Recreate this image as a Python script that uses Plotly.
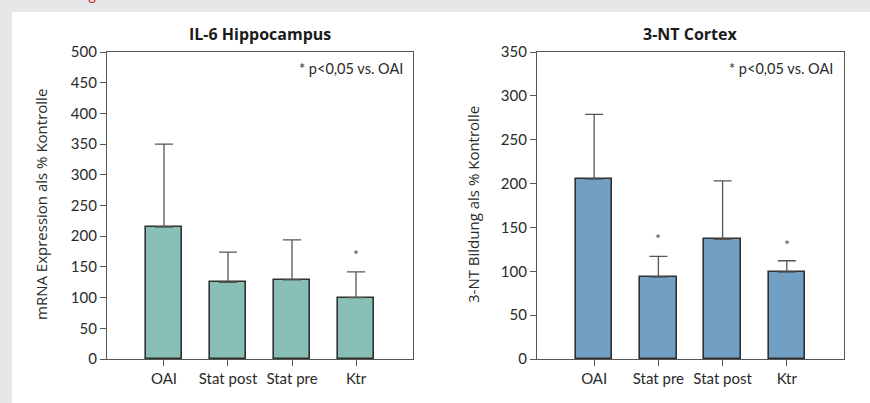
import plotly.graph_objects as go

W, H = 870, 403

# Left chart: IL-6 Hippocampus
cats_left = ["OAI", "Stat post", "Stat pre", "Ktr"]
vals_left = [215, 125, 129, 100]
err_left = [135, 49, 65, 42]
stars_left = ["", "", "", "*"]
star_y_left = [None, None, None, 171]

# Right chart: 3-NT Cortex
cats_right = ["OAI", "Stat pre", "Stat post", "Ktr"]
vals_right = [205, 93.5, 136.5, 99]
err_right = [74, 23.5, 66.5, 13]
stars_right = ["", "*", "", "*"]
star_y_right = [None, 137, None, 130]

title_left = "IL-6 Hippocampus"
title_right = "3-NT Cortex"
ytitle_left = "mRNA Expression als % Kontrolle"
ytitle_right = "3-NT Bildung als % Kontrolle"
note_text = "* p<0,05 vs. OAI"
yticks_left = [0, 50, 100, 150, 200, 250, 300, 350, 400, 450, 500]
yticks_right = [0, 50, 100, 150, 200, 250, 300, 350]

FONT = "Lato"
TXT = "#2a2a2a"
AX = "#555555"

fig = go.Figure()

def add_bars(cats, vals, errs, color, xa, ya):
    fig.add_trace(go.Bar(
        x=list(range(len(cats))), y=vals,
        width=0.57,
        marker=dict(color=color, line=dict(color="#303030", width=1.6)),
        error_y=dict(type="data", array=errs, arrayminus=[0]*len(errs),
                     symmetric=False, color="#555555", thickness=1.3, width=9),
        xaxis=xa, yaxis=ya, showlegend=False, hoverinfo="skip",
    ))

add_bars(cats_left, vals_left, err_left, "#88c0b8", "x", "y")
add_bars(cats_right, vals_right, err_right, "#72a0c4", "x2", "y2")

xd1 = [107 / W, 413 / W]
xd2 = [537 / W, 844 / W]
yd = [(H - 359) / H, (H - 52) / H]

common_x = dict(showline=True, linecolor=AX, linewidth=1.3, mirror=True,
                ticks="outside", ticklen=6, tickcolor=AX, tickwidth=1.3,
                showgrid=False, zeroline=False, range=[-0.89, 3.89],
                automargin=False,
                tickfont=dict(family=FONT, size=15, color=TXT))
common_y = dict(showline=True, linecolor=AX, linewidth=1.3, mirror=True,
                ticks="outside", ticklen=6, tickcolor=AX, tickwidth=1.3,
                showgrid=False, zeroline=False, automargin=False,
                tickfont=dict(family=FONT, size=15, color=TXT))

fig.update_layout(
    width=W, height=H,
    margin=dict(l=0, r=0, t=0, b=0, pad=0, autoexpand=False),
    paper_bgcolor="#e6e7e8",
    plot_bgcolor="white",
    bargap=0,
    xaxis=dict(domain=xd1, anchor="y", tickvals=list(range(4)), ticktext=cats_left, **common_x),
    yaxis=dict(domain=yd, anchor="x", range=[0, 500], tickvals=yticks_left, **common_y),
    xaxis2=dict(domain=xd2, anchor="y2", tickvals=list(range(4)), ticktext=cats_right, **common_x),
    yaxis2=dict(domain=yd, anchor="x2", range=[0, 350], tickvals=yticks_right, **common_y),
    shapes=[dict(type="rect", xref="paper", yref="paper", layer="below",
                 x0=12 / W, x1=1, y0=0, y1=(H - 12) / H,
                 fillcolor="white", line=dict(width=0))],
)

ann = []
# titles
ann.append(dict(text="<b>" + title_left + "</b>", xref="paper", yref="paper",
                x=260 / W, y=(H - 34) / H, xanchor="center", yanchor="middle",
                showarrow=False, font=dict(family="Open Sans", size=16, color="#1a1a1a")))
ann.append(dict(text="<b>" + title_right + "</b>", xref="paper", yref="paper",
                x=690 / W, y=(H - 34) / H, xanchor="center", yanchor="middle",
                showarrow=False, font=dict(family="Open Sans", size=16, color="#1a1a1a")))
# y-axis titles
ann.append(dict(text=ytitle_left, xref="paper", yref="paper", textangle=-90,
                x=41 / W, y=(H - 205) / H, xanchor="center", yanchor="middle",
                showarrow=False, font=dict(family="Open Sans", size=15, color=TXT)))
ann.append(dict(text=ytitle_right, xref="paper", yref="paper", textangle=-90,
                x=473 / W, y=(H - 205) / H, xanchor="center", yanchor="middle",
                showarrow=False, font=dict(family="Open Sans", size=15, color=TXT)))
# notes
ann.append(dict(text=note_text, xref="paper", yref="paper",
                x=405 / W, y=(H - 68) / H, xanchor="right", yanchor="middle",
                showarrow=False, font=dict(family=FONT, size=14.5, color=TXT)))
ann.append(dict(text=note_text, xref="paper", yref="paper",
                x=835 / W, y=(H - 68) / H, xanchor="right", yanchor="middle",
                showarrow=False, font=dict(family=FONT, size=14.5, color=TXT)))
# stars
for i, (s, sy) in enumerate(zip(stars_left, star_y_left)):
    if s:
        ann.append(dict(text=s, xref="x", yref="y", x=i, y=sy, showarrow=False,
                        xanchor="center", yanchor="middle",
                        font=dict(family=FONT, size=14, color="#555555")))
for i, (s, sy) in enumerate(zip(stars_right, star_y_right)):
    if s:
        ann.append(dict(text=s, xref="x2", yref="y2", x=i, y=sy, showarrow=False,
                        xanchor="center", yanchor="middle",
                        font=dict(family=FONT, size=14, color="#555555")))
# red heading cut off at the top of the page
ann.append(dict(text="Abbildung", xref="paper", yref="paper",
                x=98 / W, y=(H - 5) / H, xanchor="right", yanchor="bottom",
                showarrow=False, font=dict(family=FONT, size=15, color="#d2232a")))

fig.update_layout(annotations=ann)

fig.write_html("out.html")
